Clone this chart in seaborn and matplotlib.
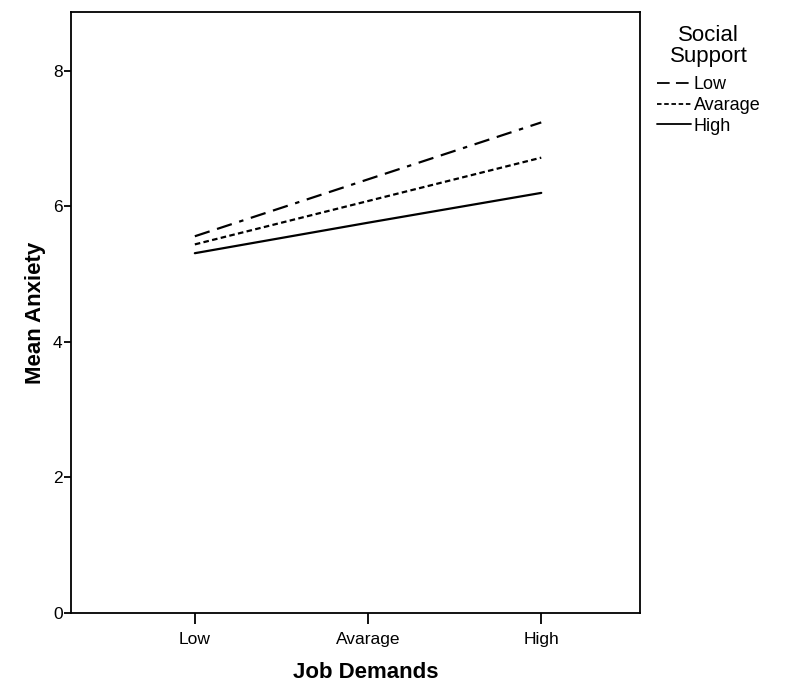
import pandas as pd
import numpy as np
import seaborn as sns
import matplotlib
matplotlib.use("Agg")
import matplotlib.pyplot as plt

# data
job_demands = ['Low', 'Avarage', 'High']
support_levels = ['Low', 'Avarage', 'High']
anx_low_support = [5.56, 6.40, 7.24]
anx_avg_support = [5.44, 6.08, 6.72]
anx_high_support = [5.31, 5.76, 6.20]

df = pd.DataFrame({
    'Job Demands': job_demands * 3,
    'x': list(range(3)) * 3,
    'Social Support': np.repeat(support_levels, 3),
    'Mean Anxiety': anx_low_support + anx_avg_support + anx_high_support,
})

sns.set_style("ticks")
plt.rcParams['font.family'] = ['Liberation Sans', 'DejaVu Sans']
plt.rcParams['text.color'] = 'black'
plt.rcParams['axes.labelcolor'] = 'black'
plt.rcParams['xtick.color'] = 'black'
plt.rcParams['ytick.color'] = 'black'

fig = plt.figure(figsize=(7.87, 6.88), dpi=100)
ax = fig.add_axes([0.0902, 0.109, 0.723, 0.8736])

dashes = {'Low': (7, 3.5, 7, 3.5, 2, 3.5), 'Avarage': (2.5, 1.5), 'High': ''}
sns.lineplot(data=df, x='x', y='Mean Anxiety', style='Social Support',
             style_order=support_levels, dashes=dashes, color='black',
             linewidth=1.6, ax=ax, legend=True)

ax.set_xlim(-0.715, 2.57)
ax.set_ylim(0, 8.87)
ax.set_xticks(range(3))
ax.set_xticklabels(job_demands, fontsize=12.5)
ax.set_yticks([0, 2, 4, 6, 8])
ax.tick_params(axis='y', labelsize=12.5, length=5, width=1.3, pad=1)
ax.tick_params(axis='x', length=8, width=1.3, pad=6)
for s in ax.spines.values():
    s.set_visible(True)
    s.set_linewidth(1.3)
    s.set_color('black')

ax.set_xlabel('Job Demands', fontsize=16, fontweight='bold')
ax.xaxis.set_label_coords(0.518, -0.082)
ax.set_ylabel('Mean Anxiety', fontsize=16, fontweight='bold', labelpad=5)

leg = ax.legend(title='Social\nSupport', loc='upper left', bbox_to_anchor=(1.007, 1.0),
                frameon=False, fontsize=13, title_fontsize=16, handlelength=1.9,
                handletextpad=0.15, labelspacing=0.2, borderaxespad=0.3)
leg._legend_box.align = 'center'
leg._legend_box.sep = 7
leg.get_title().set_multialignment('center')
leg.get_title().set_linespacing(1.0)
for line in leg.get_lines():
    line.set_linewidth(1.3)

fig.savefig('out.png', dpi=100)
